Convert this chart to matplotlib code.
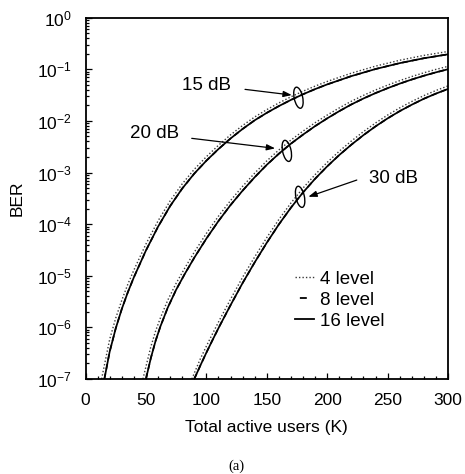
import numpy as np
import matplotlib
matplotlib.use("Agg")
import matplotlib.pyplot as plt
from matplotlib.patches import Ellipse
from matplotlib.lines import Line2D
from matplotlib.transforms import ScaledTranslation
from matplotlib.ticker import MultipleLocator, LogLocator, FixedLocator, FixedFormatter, NullFormatter

plt.rcParams['font.family'] = ['Liberation Sans', 'DejaVu Sans']
plt.rcParams['mathtext.fontset'] = 'custom'
plt.rcParams['mathtext.rm'] = 'Liberation Sans'
plt.rcParams['mathtext.it'] = 'Liberation Sans:italic'
plt.rcParams['mathtext.bf'] = 'Liberation Sans:bold'
plt.rcParams['lines.scale_dashes'] = False

# ---------------- data (BER given as log10) ----------------
# 15 dB
k15_16 = [15.6, 20, 25, 30, 35, 40, 50, 60, 70, 80, 90, 100, 110, 120, 130, 140,
          150, 160, 170, 180, 190, 200, 220, 240, 260, 280, 300]
log15_16 = [-7.0, -6.47, -6.02, -5.645, -5.32, -5.03, -4.51, -4.05, -3.65, -3.31, -3.02,
            -2.77, -2.545, -2.34, -2.155, -1.987, -1.843, -1.712, -1.592, -1.483, -1.383,
            -1.292, -1.131, -0.994, -0.88, -0.785, -0.709]
k15_4 = [13.3, 20, 25, 30, 35, 40, 50, 60, 70, 80, 90, 100, 110, 120, 130, 140,
         150, 160, 170, 180, 190, 200, 220, 240, 260, 280, 300]
log15_4 = [-7.0, -6.23, -5.82, -5.475, -5.165, -4.89, -4.385, -3.937, -3.55, -3.22, -2.937,
           -2.693, -2.472, -2.27, -2.088, -1.923, -1.781, -1.651, -1.532, -1.424, -1.325,
           -1.235, -1.074, -0.938, -0.824, -0.73, -0.654]
k15_8 = list(k15_16)      # 8 level coincides with 16 level
log15_8 = list(log15_16)

# 20 dB
k20_16 = [50, 54, 58, 62, 68, 75, 82, 90, 100, 110, 120, 130, 140, 150, 160, 170, 180,
          190, 200, 210, 220, 230, 240, 250, 260, 270, 280, 290, 300]
log20_16 = [-7.0, -6.6, -6.26, -5.98, -5.62, -5.27, -4.97, -4.65, -4.28, -3.94, -3.63, -3.35,
            -3.09, -2.85, -2.635, -2.44, -2.265, -2.10, -1.95, -1.81, -1.68, -1.565, -1.46,
            -1.365, -1.277, -1.197, -1.124, -1.058, -0.998]
k20_4 = [47.5, 54, 58, 62, 68, 75, 82, 90, 100, 110, 120, 130, 140, 150, 160, 170, 180,
         190, 200, 210, 220, 230, 240, 250, 260, 270, 280, 290, 300]
log20_4 = [-7.0, -6.38, -6.07, -5.815, -5.475, -5.145, -4.857, -4.543, -4.18, -3.846, -3.542,
           -3.267, -3.011, -2.774, -2.562, -2.37, -2.197, -2.034, -1.886, -1.747, -1.618,
           -1.504, -1.40, -1.306, -1.219, -1.139, -1.067, -1.001, -0.942]
k20_8 = list(k20_16)
log20_8 = list(log20_16)

# 30 dB
k30_16 = [90, 95, 100, 105, 111, 120, 130, 140, 150, 160, 170, 180, 190, 200, 210, 220,
          230, 240, 250, 260, 270, 280, 290, 300]
log30_16 = [-7.0, -6.74, -6.49, -6.25, -5.97, -5.57, -5.14, -4.74, -4.36, -4.005, -3.68,
            -3.385, -3.12, -2.88, -2.66, -2.46, -2.275, -2.105, -1.95, -1.81, -1.685, -1.57,
            -1.47, -1.38]
k30_4 = [88, 95, 100, 105, 111, 120, 130, 140, 150, 160, 170, 180, 190, 200, 210, 220,
         230, 240, 250, 260, 270, 280, 290, 300]
log30_4 = [-7.0, -6.61, -6.365, -6.128, -5.852, -5.455, -5.028, -4.634, -4.26, -3.909, -3.59,
           -3.30, -3.04, -2.803, -2.586, -2.389, -2.207, -2.039, -1.886, -1.747, -1.623,
           -1.509, -1.41, -1.321]
k30_8 = list(k30_16)
log30_8 = list(log30_16)

series = [
    ((k15_4, log15_4), (k15_8, log15_8), (k15_16, log15_16)),
    ((k20_4, log20_4), (k20_8, log20_8), (k20_16, log20_16)),
    ((k30_4, log30_4), (k30_8, log30_8), (k30_16, log30_16)),
]

legend_labels = ["4 level", "8 level", "16 level"]
x_ticks = [0, 50, 100, 150, 200, 250, 300]
y_exps = [0, -1, -2, -3, -4, -5, -6, -7]

# annotations: label, text position, arrow tail, arrow tip, ellipse centre (K, log10 BER)
ann_labels = ["15 dB", "20 dB", "30 dB"]
ann_text = [(99.8, -1.31), (57.5, -2.24), (254.5, -3.11)]
ann_tail = [(132.0, -1.388), (87.9, -2.337), (224.5, -3.145)]
ann_tip = [(170.7, -1.498), (156.9, -2.531), (184.4, -3.469)]
ell_centre = [(176.2, -1.55), (166.6, -2.58), (177.6, -3.47)]

# ---------------- figure ----------------
fig = plt.figure(figsize=(4.65, 4.74), dpi=100)
ax = fig.add_axes([0.1839, 0.2004, 0.7796, 0.7622])

dot_style = (0, (1.0, 1.5))
for (k4, l4), (k8, l8), (k16, l16) in series:
    ax.plot(k4, 10.0 ** np.array(l4), color='#3a3a3a', lw=1.0, linestyle=dot_style, zorder=2)
    ax.plot(k8, 10.0 ** np.array(l8), color='k', lw=1.2, linestyle=(0, (4, 3)), zorder=2)
    ax.plot(k16, 10.0 ** np.array(l16), color='k', lw=1.25, zorder=3)

ax.set_yscale('log')
ax.set_xlim(0, 300)
ax.set_ylim(1e-7, 1)

ax.xaxis.set_major_locator(FixedLocator(x_ticks))
ax.xaxis.set_minor_locator(MultipleLocator(10))
ax.yaxis.set_major_locator(FixedLocator([10.0 ** e for e in y_exps]))
ax.yaxis.set_major_formatter(FixedFormatter([r'$\mathregular{10^{%d}}$' % e for e in y_exps]))
ax.yaxis.set_minor_locator(LogLocator(base=10, subs=np.arange(2, 10)))
ax.yaxis.set_minor_formatter(NullFormatter())

ax.tick_params(which='both', direction='in', top=False, right=False, labelsize=12.5, pad=10, width=0.9)
ax.tick_params(which='major', length=4)
ax.tick_params(which='minor', length=2.2)
for s in ax.spines.values():
    s.set_linewidth(1.3)

ax.set_xlabel("Total active users (K)", fontsize=12.5)
ax.set_ylabel("BER", fontsize=12.5)
ax.xaxis.set_label_coords(0.5, -0.113)
ax.yaxis.set_label_coords(-0.168, 0.5)

for lab, tp, tail, tip, ec in zip(ann_labels, ann_text, ann_tail, ann_tip, ell_centre):
    ax.text(tp[0], 10.0 ** tp[1], lab, fontsize=13.5, ha='center', va='center')
    ax.annotate("", xy=(tip[0], 10.0 ** tip[1]), xytext=(tail[0], 10.0 ** tail[1]),
                arrowprops=dict(arrowstyle='-|>,head_length=0.5,head_width=0.18',
                                color='k', lw=0.9, shrinkA=0, shrinkB=0))
    tr = fig.dpi_scale_trans + ScaledTranslation(ec[0], 10.0 ** ec[1], ax.transData)
    ax.add_patch(Ellipse((0, 0), 0.085, 0.215, angle=12, transform=tr,
                         fill=False, ec='k', lw=1.0, zorder=4))

handles = [
    Line2D([], [], color='#3a3a3a', lw=1.0, linestyle=dot_style),
    Line2D([], [], color='k', lw=1.3, linestyle=(21.5, (5, 20))),
    Line2D([], [], color='k', lw=1.3),
]
ax.legend(handles, legend_labels, loc='upper left', bbox_to_anchor=(0.578, 0.300),
          frameon=False, fontsize=13.5, handlelength=1.0, handletextpad=0.35,
          labelspacing=0.21, borderpad=0, borderaxespad=0)

fig.text(236 / 465, 1 - 466 / 474, "(a)", fontsize=10.5, ha='center', va='center',
         family=['Liberation Serif', 'DejaVu Serif'])

fig.savefig("out.png", dpi=100)
